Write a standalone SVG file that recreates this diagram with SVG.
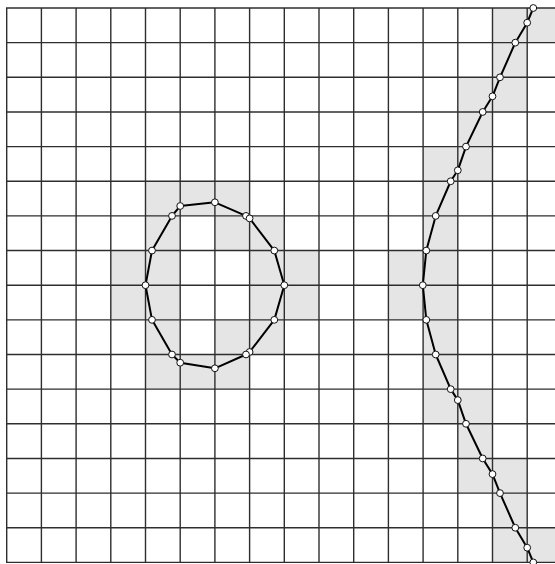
<svg xmlns="http://www.w3.org/2000/svg" width="555" height="564" viewBox="0 0 555 564">
<style>
.cell{fill:#e5e5e5;stroke:none}
.grid line{stroke:#2e2e2e;stroke-width:1.4}
.curve{fill:none;stroke:#000;stroke-width:2;stroke-linejoin:round}
.v{fill:#fff;stroke:#111;stroke-width:1}
</style>
<rect x="0" y="0" width="555" height="564" fill="#fff"/>
<g id="shading">
<!-- ellipse cells -->
<rect class="cell" x="145.5" y="181.25" width="104.1" height="34.65"/>
<rect class="cell" x="145.5" y="215.9" width="34.7" height="34.65"/>
<rect class="cell" x="214.9" y="215.9" width="69.4" height="34.65"/>
<rect class="cell" x="110.8" y="250.55" width="69.4" height="69.3"/>
<rect class="cell" x="249.6" y="250.55" width="69.4" height="69.3"/>
<rect class="cell" x="145.5" y="319.85" width="34.7" height="34.65"/>
<rect class="cell" x="214.9" y="319.85" width="69.4" height="34.65"/>
<rect class="cell" x="145.5" y="354.5" width="104.1" height="34.65"/>
<!-- right curve cells -->
<rect class="cell" x="492.5" y="8" width="69.4" height="34.65"/>
<rect class="cell" x="492.5" y="42.65" width="34.7" height="34.65"/>
<rect class="cell" x="457.8" y="77.3" width="69.4" height="34.65"/>
<rect class="cell" x="457.8" y="111.95" width="34.7" height="34.65"/>
<rect class="cell" x="423.1" y="146.6" width="69.4" height="34.65"/>
<rect class="cell" x="423.1" y="181.25" width="34.7" height="69.3"/>
<rect class="cell" x="388.4" y="250.55" width="69.4" height="69.3"/>
<rect class="cell" x="423.1" y="319.85" width="34.7" height="69.3"/>
<rect class="cell" x="423.1" y="389.15" width="69.4" height="34.65"/>
<rect class="cell" x="457.8" y="423.8" width="34.7" height="34.65"/>
<rect class="cell" x="457.8" y="458.45" width="69.4" height="34.65"/>
<rect class="cell" x="492.5" y="493.1" width="34.7" height="34.65"/>
<rect class="cell" x="492.5" y="527.75" width="69.4" height="34.65"/>
</g>
<g id="grid" class="grid">
<line x1="6.7" y1="8" x2="6.7" y2="562.4"/>
<line x1="41.4" y1="8" x2="41.4" y2="562.4"/>
<line x1="76.1" y1="8" x2="76.1" y2="562.4"/>
<line x1="110.8" y1="8" x2="110.8" y2="562.4"/>
<line x1="145.5" y1="8" x2="145.5" y2="562.4"/>
<line x1="180.2" y1="8" x2="180.2" y2="562.4"/>
<line x1="214.9" y1="8" x2="214.9" y2="562.4"/>
<line x1="249.6" y1="8" x2="249.6" y2="562.4"/>
<line x1="284.3" y1="8" x2="284.3" y2="562.4"/>
<line x1="319" y1="8" x2="319" y2="562.4"/>
<line x1="353.7" y1="8" x2="353.7" y2="562.4"/>
<line x1="388.4" y1="8" x2="388.4" y2="562.4"/>
<line x1="423.1" y1="8" x2="423.1" y2="562.4"/>
<line x1="457.8" y1="8" x2="457.8" y2="562.4"/>
<line x1="492.5" y1="8" x2="492.5" y2="562.4"/>
<line x1="527.2" y1="8" x2="527.2" y2="562.4"/>
<line x1="6" y1="8" x2="555" y2="8"/>
<line x1="6" y1="42.65" x2="555" y2="42.65"/>
<line x1="6" y1="77.3" x2="555" y2="77.3"/>
<line x1="6" y1="111.95" x2="555" y2="111.95"/>
<line x1="6" y1="146.6" x2="555" y2="146.6"/>
<line x1="6" y1="181.25" x2="555" y2="181.25"/>
<line x1="6" y1="215.9" x2="555" y2="215.9"/>
<line x1="6" y1="250.55" x2="555" y2="250.55"/>
<line x1="6" y1="285.2" x2="555" y2="285.2"/>
<line x1="6" y1="319.85" x2="555" y2="319.85"/>
<line x1="6" y1="354.5" x2="555" y2="354.5"/>
<line x1="6" y1="389.15" x2="555" y2="389.15"/>
<line x1="6" y1="423.8" x2="555" y2="423.8"/>
<line x1="6" y1="458.45" x2="555" y2="458.45"/>
<line x1="6" y1="493.1" x2="555" y2="493.1"/>
<line x1="6" y1="527.75" x2="555" y2="527.75"/>
<line x1="6" y1="562.4" x2="555" y2="562.4"/>
</g>
<g id="ellipse">
<polygon class="curve" points="214.9,202.3 246,215.9 249.6,218.4 274.3,250.55 284.3,285.2 274.3,319.85 249.6,352 246,354.5 214.9,368.3 180.2,362.7 172,354.5 152,319.85 145.5,285.2 152,250.55 172,215.9 180.2,206"/>
<circle class="v" cx="214.9" cy="202.3" r="3.4"/>
<circle class="v" cx="246" cy="215.9" r="3.4"/>
<circle class="v" cx="249.6" cy="218.4" r="3.4"/>
<circle class="v" cx="274.3" cy="250.55" r="3.4"/>
<circle class="v" cx="284.3" cy="285.2" r="3.4"/>
<circle class="v" cx="274.3" cy="319.85" r="3.4"/>
<circle class="v" cx="249.6" cy="352" r="3.4"/>
<circle class="v" cx="246" cy="354.5" r="3.4"/>
<circle class="v" cx="214.9" cy="368.3" r="3.4"/>
<circle class="v" cx="180.2" cy="362.7" r="3.4"/>
<circle class="v" cx="172" cy="354.5" r="3.4"/>
<circle class="v" cx="152" cy="319.85" r="3.4"/>
<circle class="v" cx="145.5" cy="285.2" r="3.4"/>
<circle class="v" cx="152" cy="250.55" r="3.4"/>
<circle class="v" cx="172" cy="215.9" r="3.4"/>
<circle class="v" cx="180.2" cy="206" r="3.4"/>
</g>
<g id="arc">
<polyline class="curve" points="533.3,8 527.2,22.7 515.3,42.65 500,77.3 492.5,96.3 482.7,111.95 466,146.6 457.8,170.3 450.7,181.25 435.7,215.9 426.3,250.55 422.8,285.2 426.3,319.85 435.7,354.5 450.7,389.15 457.8,400.1 466,423.8 482.7,458.45 492.5,474.1 500,493.1 515.3,527.75 527.2,547.7 533.3,562.4"/>
<circle class="v" cx="533.3" cy="8" r="3.4"/>
<circle class="v" cx="527.2" cy="22.7" r="3.4"/>
<circle class="v" cx="515.3" cy="42.65" r="3.4"/>
<circle class="v" cx="500" cy="77.3" r="3.4"/>
<circle class="v" cx="492.5" cy="96.3" r="3.4"/>
<circle class="v" cx="482.7" cy="111.95" r="3.4"/>
<circle class="v" cx="466" cy="146.6" r="3.4"/>
<circle class="v" cx="457.8" cy="170.3" r="3.4"/>
<circle class="v" cx="450.7" cy="181.25" r="3.4"/>
<circle class="v" cx="435.7" cy="215.9" r="3.4"/>
<circle class="v" cx="426.3" cy="250.55" r="3.4"/>
<circle class="v" cx="422.8" cy="285.2" r="3.4"/>
<circle class="v" cx="426.3" cy="319.85" r="3.4"/>
<circle class="v" cx="435.7" cy="354.5" r="3.4"/>
<circle class="v" cx="450.7" cy="389.15" r="3.4"/>
<circle class="v" cx="457.8" cy="400.1" r="3.4"/>
<circle class="v" cx="466" cy="423.8" r="3.4"/>
<circle class="v" cx="482.7" cy="458.45" r="3.4"/>
<circle class="v" cx="492.5" cy="474.1" r="3.4"/>
<circle class="v" cx="500" cy="493.1" r="3.4"/>
<circle class="v" cx="515.3" cy="527.75" r="3.4"/>
<circle class="v" cx="527.2" cy="547.7" r="3.4"/>
<circle class="v" cx="533.3" cy="562.4" r="3.4"/>
</g>
</svg>
